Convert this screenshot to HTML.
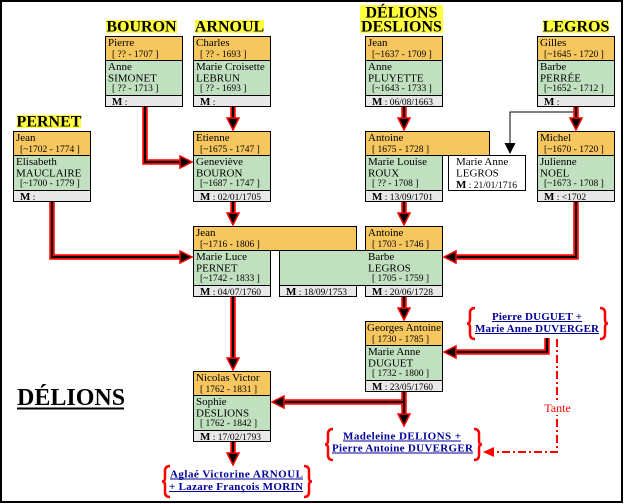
<!DOCTYPE html>
<html><head><meta charset="utf-8"><style>
html,body{margin:0;padding:0;background:#fff;}
svg{display:block;}
text{font-family:"Liberation Serif","DejaVu Serif",serif;fill:#000;}
.n{font-size:11px;}
.d{font-size:9.5px;}
.M{font-size:11px;font-weight:bold;}
.o{fill:#F7C75F;stroke:#000;stroke-width:1;}
.g{fill:#C0E0C0;stroke:#000;stroke-width:1;}
.m{fill:#E8E8E8;stroke:#000;stroke-width:1;}
.w{fill:#fff;stroke:#000;stroke-width:1;}
.lab{font-size:16px;font-weight:bold;}
.r{fill:none;stroke:#f00;stroke-width:5.5;stroke-linejoin:miter;}
.b{fill:none;stroke:#000;stroke-width:2;stroke-linejoin:miter;}
.ah{fill:#000;stroke:#f00;stroke-width:1.5;}
.br{fill:none;stroke:#f00;stroke-width:2.5;}
.lk{font-size:11px;font-weight:bold;fill:#000099;}
</style></head><body>
<svg width="624" height="504" viewBox="0 0 624 504" xmlns="http://www.w3.org/2000/svg">
<rect x="0" y="0" width="624" height="504" fill="#fff"/>
<rect x="1" y="1" width="621" height="501" fill="none" stroke="#000" stroke-width="2"/>

<!-- labels -->
<rect x="106" y="20" width="71" height="13" fill="#FFFF40"/>
<text class="lab" x="141.5" y="31.5" text-anchor="middle">BOURON</text>
<rect x="195" y="20" width="69" height="13" fill="#FFFF40"/>
<text class="lab" x="229.5" y="31.5" text-anchor="middle">ARNOUL</text>
<rect x="360" y="5" width="83" height="28" fill="#FFFF40"/>
<text class="lab" x="401.5" y="17.5" text-anchor="middle">DÉLIONS</text>
<text class="lab" x="401.5" y="31.5" text-anchor="middle">DESLIONS</text>
<rect x="543" y="20" width="66" height="13" fill="#FFFF40"/>
<text class="lab" x="576" y="31.5" text-anchor="middle">LEGROS</text>
<rect x="17" y="115" width="64" height="13" fill="#FFFF40"/>
<text class="lab" x="49" y="126.5" text-anchor="middle">PERNET</text>

<!-- title -->
<text x="17" y="405" font-size="24" font-weight="bold">DÉLIONS</text>
<rect x="17" y="407.5" width="107" height="2" fill="#000"/>

<!-- thin black line -->
<path d="M576,112 H510 V144" fill="none" stroke="#000" stroke-width="1"/>
<polygon points="504.5,143 515.5,143 510,154" fill="#000"/>

<!-- red connectors -->
<g>
<path class="r" d="M145,107 V162 H181"/><path class="b" d="M145,107 V162 H181"/>
<path class="r" d="M233,107 V119"/><path class="b" d="M233,107 V119"/>
<path class="r" d="M404,107 V119"/><path class="b" d="M404,107 V119"/>
<path class="r" d="M576,107 V119"/><path class="b" d="M576,107 V119"/>
<path class="r" d="M52,202 V257 H181"/><path class="b" d="M52,202 V257 H181"/>
<path class="r" d="M233,202 V214"/><path class="b" d="M233,202 V214"/>
<path class="r" d="M404,202 V214"/><path class="b" d="M404,202 V214"/>
<path class="r" d="M576,202 V257 H455"/><path class="b" d="M576,202 V257 H455"/>
<path class="r" d="M404,297 V309"/><path class="b" d="M404,297 V309"/>
<path class="r" d="M547,338 V352 H455"/><path class="b" d="M547,338 V352 H455"/>
<path class="r" d="M233,297 V359"/><path class="b" d="M233,297 V359"/>
<path class="r" d="M404,392 V402 H283 M404,402 V415"/><path class="b" d="M404,392 V402 H283 M404,402 V415"/>
<path class="r" d="M233,442 V454"/><path class="b" d="M233,442 V454"/>
</g>

<!-- Tante dash-dot -->
<path d="M557,339 V452 H494" fill="none" stroke="#f00" stroke-width="2" stroke-dasharray="8,3,2,3"/>
<polygon points="494,447 494,457 483,452" fill="#f00"/>
<rect x="543" y="401" width="29" height="14" fill="#fff"/>
<text x="557.5" y="412" font-size="12" text-anchor="middle" style="fill:#f00">Tante</text>

<!-- Box 1 Pierre -->
<rect class="o" x="105.5" y="36.5" width="77" height="24"/>
<rect class="g" x="105.5" y="60.5" width="77" height="35"/>
<rect class="m" x="105.5" y="95.5" width="77" height="11"/>
<text class="n" x="108" y="46">Pierre</text>
<text class="d" x="112" y="57">[ ?? - 1707 ]</text>
<text class="n" x="108" y="70">Anne</text>
<text class="n" x="108" y="81.5">SIMONET</text>
<text class="d" x="112" y="91">[ ?? - 1713 ]</text>
<text x="112" y="105"><tspan class="M">M</tspan><tspan class="d"> :</tspan></text>

<!-- Box 2 Charles -->
<rect class="o" x="193.5" y="36.5" width="77" height="24"/>
<rect class="g" x="193.5" y="60.5" width="77" height="35"/>
<rect class="m" x="193.5" y="95.5" width="77" height="11"/>
<text class="n" x="196" y="46">Charles</text>
<text class="d" x="200" y="57">[ ?? - 1693 ]</text>
<text class="n" x="196" y="70">Marie Croisette</text>
<text class="n" x="196" y="81.5">LEBRUN</text>
<text class="d" x="200" y="91">[ ?? - 1693 ]</text>
<text x="200" y="105"><tspan class="M">M</tspan><tspan class="d"> :</tspan></text>

<!-- Box 3 Jean Délions -->
<rect class="o" x="365.5" y="36.5" width="77" height="24"/>
<rect class="g" x="365.5" y="60.5" width="77" height="35"/>
<rect class="m" x="365.5" y="95.5" width="77" height="11"/>
<text class="n" x="368" y="46">Jean</text>
<text class="d" x="372" y="57">[~1637 - 1709 ]</text>
<text class="n" x="368" y="70">Anne</text>
<text class="n" x="368" y="81.5">PLUYETTE</text>
<text class="d" x="372" y="91">[~1643 - 1733 ]</text>
<text x="372" y="105"><tspan class="M">M</tspan><tspan class="d"> : 06/08/1663</tspan></text>

<!-- Box 4 Gilles -->
<rect class="o" x="537.5" y="36.5" width="77" height="24"/>
<rect class="g" x="537.5" y="60.5" width="77" height="35"/>
<rect class="m" x="537.5" y="95.5" width="77" height="11"/>
<text class="n" x="540" y="46">Gilles</text>
<text class="d" x="544" y="57">[~1645 - 1720 ]</text>
<text class="n" x="540" y="70">Barbe</text>
<text class="n" x="540" y="81.5">PERRÉE</text>
<text class="d" x="544" y="91">[~1652 - 1712 ]</text>
<text x="544" y="105"><tspan class="M">M</tspan><tspan class="d"> :</tspan></text>

<!-- Box 5 Jean Pernet -->
<rect class="o" x="13.5" y="131.5" width="77" height="24"/>
<rect class="g" x="13.5" y="155.5" width="77" height="35"/>
<rect class="m" x="13.5" y="190.5" width="77" height="11"/>
<text class="n" x="16" y="141">Jean</text>
<text class="d" x="20" y="152">[~1702 - 1774 ]</text>
<text class="n" x="16" y="165">Elisabeth</text>
<text class="n" x="16" y="176.5">MAUCLAIRE</text>
<text class="d" x="20" y="186">[~1700 - 1779 ]</text>
<text x="20" y="200"><tspan class="M">M</tspan><tspan class="d"> :</tspan></text>

<!-- Box 6 Etienne -->
<rect class="o" x="193.5" y="131.5" width="77" height="24"/>
<rect class="g" x="193.5" y="155.5" width="77" height="35"/>
<rect class="m" x="193.5" y="190.5" width="77" height="11"/>
<text class="n" x="196" y="141">Etienne</text>
<text class="d" x="200" y="152">[~1675 - 1747 ]</text>
<text class="n" x="196" y="165">Geneviève</text>
<text class="n" x="196" y="176.5">BOURON</text>
<text class="d" x="200" y="186">[~1687 - 1747 ]</text>
<text x="200" y="200"><tspan class="M">M</tspan><tspan class="d"> : 02/01/1705</tspan></text>

<!-- Box 7 Antoine 1675 -->
<rect class="o" x="365.5" y="131.5" width="124" height="24"/>
<rect class="g" x="365.5" y="155.5" width="77" height="35"/>
<rect class="m" x="365.5" y="190.5" width="77" height="11"/>
<text class="n" x="368" y="141">Antoine</text>
<text class="d" x="372" y="152">[ 1675 - 1728 ]</text>
<text class="n" x="368" y="165">Marie Louise</text>
<text class="n" x="368" y="176.5">ROUX</text>
<text class="d" x="372" y="186">[ ?? - 1708 ]</text>
<text x="372" y="200"><tspan class="M">M</tspan><tspan class="d"> : 13/09/1701</tspan></text>

<!-- White box Marie Anne LEGROS -->
<rect class="w" x="448.5" y="155.5" width="77" height="35"/>
<text class="n" x="456" y="165">Marie Anne</text>
<text class="n" x="456" y="176.5">LEGROS</text>
<text x="456" y="188"><tspan class="M">M</tspan><tspan class="d"> : 21/01/1716</tspan></text>

<!-- Box 8 Michel -->
<rect class="o" x="537.5" y="131.5" width="77" height="24"/>
<rect class="g" x="537.5" y="155.5" width="77" height="35"/>
<rect class="m" x="537.5" y="190.5" width="77" height="11"/>
<text class="n" x="540" y="141">Michel</text>
<text class="d" x="544" y="152">[~1670 - 1720 ]</text>
<text class="n" x="540" y="165">Julienne</text>
<text class="n" x="540" y="176.5">NOEL</text>
<text class="d" x="544" y="186">[~1673 - 1708 ]</text>
<text x="544" y="200"><tspan class="M">M</tspan><tspan class="d"> : &lt;1702</tspan></text>

<!-- Box 9 Jean 1716 -->
<rect class="o" x="193.5" y="226.5" width="163" height="24"/>
<rect class="g" x="193.5" y="250.5" width="77" height="35"/>
<rect class="m" x="193.5" y="285.5" width="77" height="11"/>
<text class="n" x="196" y="236">Jean</text>
<text class="d" x="200" y="247">[~1716 - 1806 ]</text>
<text class="n" x="196" y="260">Marie Luce</text>
<text class="n" x="196" y="271.5">PERNET</text>
<text class="d" x="200" y="281">[~1742 - 1833 ]</text>
<text x="200" y="295"><tspan class="M">M</tspan><tspan class="d"> : 04/07/1760</tspan></text>

<!-- Box 10 Antoine 1703 / Barbe -->
<rect class="o" x="365.5" y="226.5" width="77" height="24"/>
<rect class="g" x="279.5" y="250.5" width="163" height="35"/>
<rect class="m" x="279.5" y="285.5" width="77" height="11"/>
<rect class="m" x="365.5" y="285.5" width="77" height="11"/>
<text class="n" x="368" y="236">Antoine</text>
<text class="d" x="372" y="247">[ 1703 - 1746 ]</text>
<text class="n" x="368" y="260">Barbe</text>
<text class="n" x="368" y="271.5">LEGROS</text>
<text class="d" x="372" y="281">[ 1705 - 1759 ]</text>
<text x="286" y="295"><tspan class="M">M</tspan><tspan class="d"> : 18/09/1753</tspan></text>
<text x="372" y="295"><tspan class="M">M</tspan><tspan class="d"> : 20/06/1728</tspan></text>

<!-- Box 11 Georges Antoine -->
<rect class="o" x="365.5" y="321.5" width="77" height="24"/>
<rect class="g" x="365.5" y="345.5" width="77" height="35"/>
<rect class="m" x="365.5" y="380.5" width="77" height="11"/>
<text class="n" x="367" y="331">Georges Antoine</text>
<text class="d" x="372" y="342">[ 1730 - 1785 ]</text>
<text class="n" x="368" y="355">Marie Anne</text>
<text class="n" x="368" y="366.5">DUGUET</text>
<text class="d" x="372" y="376">[ 1732 - 1800 ]</text>
<text x="372" y="390"><tspan class="M">M</tspan><tspan class="d"> : 23/05/1760</tspan></text>

<!-- Box 12 Nicolas Victor -->
<rect class="o" x="193.5" y="371.5" width="77" height="24"/>
<rect class="g" x="193.5" y="395.5" width="77" height="35"/>
<rect class="m" x="193.5" y="430.5" width="77" height="11"/>
<text class="n" x="196" y="381">Nicolas Victor</text>
<text class="d" x="200" y="392">[ 1762 - 1831 ]</text>
<text class="n" x="196" y="405">Sophie</text>
<text class="n" x="196" y="416.5">DESLIONS</text>
<text class="d" x="200" y="426">[ 1762 - 1842 ]</text>
<text x="200" y="440"><tspan class="M">M</tspan><tspan class="d"> : 17/02/1793</tspan></text>

<!-- arrowheads -->
<polygon class="ah" points="227,118 239,118 233,130"/>
<polygon class="ah" points="398,118 410,118 404,130"/>
<polygon class="ah" points="570,118 582,118 576,130"/>
<polygon class="ah" points="227,213 239,213 233,225"/>
<polygon class="ah" points="398,213 410,213 404,225"/>
<polygon class="ah" points="398,308 410,308 404,320"/>
<polygon class="ah" points="227,358 239,358 233,370"/>
<polygon class="ah" points="398,414 410,414 404,426"/>
<polygon class="ah" points="227,453 239,453 233,465"/>
<polygon class="ah" points="180,156 180,168 192,162"/>
<polygon class="ah" points="180,251 180,263 192,257"/>
<polygon class="ah" points="456,251 456,263 444,257"/>
<polygon class="ah" points="456,346 456,358 444,352"/>
<polygon class="ah" points="284,396 284,408 272,402"/>

<!-- braces -->
<path class="br" d="M475,308 Q470,308 470,313 L470,320 Q470,323.5 467,323.5 Q470,323.5 470,327 L470,334 Q470,339 475,339"/>
<path class="br" d="M600,308 Q605,308 605,313 L605,320 Q605,323.5 608,323.5 Q605,323.5 605,327 L605,334 Q605,339 600,339"/>
<path class="br" d="M333,429 Q328,429 328,434 L328,441 Q328,444.5 325,444.5 Q328,444.5 328,448 L328,455 Q328,460 333,460"/>
<path class="br" d="M474,429 Q479,429 479,434 L479,441 Q479,444.5 482,444.5 Q479,444.5 479,448 L479,455 Q479,460 474,460"/>
<path class="br" d="M170,466 Q165,466 165,471 L165,478 Q165,481.5 162,481.5 Q165,481.5 165,485 L165,492 Q165,497 170,497"/>
<path class="br" d="M304,466 Q309,466 309,471 L309,478 Q309,481.5 312,481.5 Q309,481.5 309,485 L309,492 Q309,497 304,497"/>

<!-- link texts -->
<text class="lk" x="492" y="320" textLength="90">Pierre DUGUET +</text>
<rect x="492" y="321" width="90" height="1" fill="#000099"/>
<text class="lk" x="475" y="332" textLength="124">Marie Anne DUVERGER</text>
<rect x="475" y="333" width="124" height="1" fill="#000099"/>
<text class="lk" x="343" y="439.5" textLength="118">Madeleine DELIONS +</text>
<rect x="343" y="440.5" width="118" height="1" fill="#000099"/>
<text class="lk" x="332" y="451.5" textLength="141">Pierre Antoine DUVERGER</text>
<rect x="332" y="452.5" width="141" height="1" fill="#000099"/>
<text class="lk" x="170" y="477.5" textLength="133">Aglaé Victorine ARNOUL</text>
<rect x="170" y="478.5" width="133" height="1" fill="#000099"/>
<text class="lk" x="169" y="490" textLength="134">+ Lazare François MORIN</text>
<rect x="169" y="491" width="134" height="1" fill="#000099"/>
</svg>
</body></html>
